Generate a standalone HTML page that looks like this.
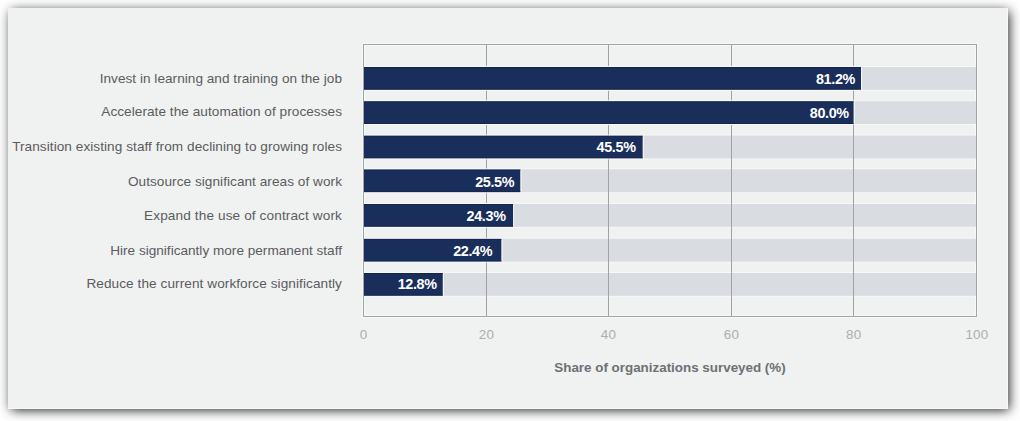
<!DOCTYPE html>
<html><head><meta charset="utf-8">
<style>
html,body{margin:0;padding:0;width:1020px;height:421px;overflow:hidden;background:#fff;}
body{position:relative;font-family:"Liberation Sans",sans-serif;}
.panel{position:absolute;left:8px;top:8px;width:1000px;height:401px;background:#f0f1f1;
  box-shadow:2px 2px 11px -1px rgba(0,0,0,0.9), inset -1px -1px 0 rgba(255,255,255,0.5);}
.val{position:absolute;height:23px;line-height:24px;color:#fff;font-weight:bold;font-size:14.4px;letter-spacing:-0.35px;text-align:right;white-space:nowrap;}
.lab{position:absolute;right:678px;height:23px;line-height:23px;color:#5b5c5e;font-size:13.6px;white-space:nowrap;letter-spacing:0.05px;}
.tick{position:absolute;top:326px;width:40px;margin-left:-20px;text-align:center;font-size:13.4px;color:#acaeb0;line-height:18px;letter-spacing:0.3px;}
.title{position:absolute;left:470px;width:400px;top:359px;text-align:center;font-weight:bold;font-size:13.4px;color:#6e7074;line-height:18px;}
</style></head><body>
<div class="panel"></div>
<svg width="1020" height="421" style="position:absolute;left:0;top:0"><rect x="364" y="45" width="612" height="1" fill="#f7f8f8"/><rect x="364" y="315" width="612" height="1" fill="#f7f8f8"/><rect x="364" y="45" width="1" height="271" fill="#f7f8f8"/><rect x="975" y="45" width="1" height="271" fill="#f7f8f8"/><rect x="977" y="44" width="1" height="274" fill="#f7f8f8"/><rect x="362" y="44" width="1" height="274" fill="#f7f8f8"/><rect x="362" y="43" width="616" height="1" fill="#f7f8f8"/><rect x="362" y="317" width="616" height="1" fill="#f7f8f8"/><rect x="364" y="66" width="612" height="1" fill="#f7f8f8"/><rect x="364" y="89.8" width="612" height="1" fill="#f7f8f8"/><rect x="364" y="67" width="612" height="22.8" fill="#d9dde1"/><rect x="364" y="100.2" width="612" height="1" fill="#f7f8f8"/><rect x="364" y="124.0" width="612" height="1" fill="#f7f8f8"/><rect x="364" y="101.2" width="612" height="22.8" fill="#d9dde1"/><rect x="364" y="134.6" width="612" height="1" fill="#f7f8f8"/><rect x="364" y="158.4" width="612" height="1" fill="#f7f8f8"/><rect x="364" y="135.6" width="612" height="22.8" fill="#d9dde1"/><rect x="364" y="168.4" width="612" height="1" fill="#f7f8f8"/><rect x="364" y="192.20000000000002" width="612" height="1" fill="#f7f8f8"/><rect x="364" y="169.4" width="612" height="22.8" fill="#d9dde1"/><rect x="364" y="203" width="612" height="1" fill="#f7f8f8"/><rect x="364" y="226.8" width="612" height="1" fill="#f7f8f8"/><rect x="364" y="204" width="612" height="22.8" fill="#d9dde1"/><rect x="364" y="237.8" width="612" height="1" fill="#f7f8f8"/><rect x="364" y="261.6" width="612" height="1" fill="#f7f8f8"/><rect x="364" y="238.8" width="612" height="22.8" fill="#d9dde1"/><rect x="364" y="272" width="612" height="1" fill="#f7f8f8"/><rect x="364" y="295.8" width="612" height="1" fill="#f7f8f8"/><rect x="364" y="273" width="612" height="22.8" fill="#d9dde1"/><rect x="363.5" y="44.5" width="613" height="272" fill="none" stroke="#a0a2a4" stroke-width="1"/><rect x="486" y="45" width="1" height="271" fill="#a0a2a4"/><rect x="608" y="45" width="1" height="271" fill="#a0a2a4"/><rect x="731" y="45" width="1" height="271" fill="#a0a2a4"/><rect x="853" y="45" width="1" height="271" fill="#a0a2a4"/><rect x="364" y="67" width="497.06" height="22.8" fill="#1a2e5b"/><rect x="861.06" y="66" width="1" height="24.8" fill="#f7f8f8"/><rect x="364" y="66" width="497.06" height="1" fill="#f7f8f8"/><rect x="364" y="89.8" width="497.06" height="1" fill="#f7f8f8"/><rect x="364" y="67" width="497.06" height="1" fill="#0f2048" opacity="0.6"/><rect x="364" y="88.8" width="497.06" height="1" fill="#0f2048" opacity="0.6"/><rect x="364" y="101.2" width="489.72" height="22.8" fill="#1a2e5b"/><rect x="853.72" y="100.2" width="1" height="24.8" fill="#f7f8f8"/><rect x="364" y="100.2" width="489.72" height="1" fill="#f7f8f8"/><rect x="364" y="124.0" width="489.72" height="1" fill="#f7f8f8"/><rect x="364" y="101.2" width="489.72" height="1" fill="#0f2048" opacity="0.6"/><rect x="364" y="123.0" width="489.72" height="1" fill="#0f2048" opacity="0.6"/><rect x="364" y="135.6" width="278.79" height="22.8" fill="#1a2e5b"/><rect x="642.79" y="134.6" width="1" height="24.8" fill="#f7f8f8"/><rect x="364" y="134.6" width="278.79" height="1" fill="#f7f8f8"/><rect x="364" y="158.4" width="278.79" height="1" fill="#f7f8f8"/><rect x="364" y="135.6" width="278.79" height="1" fill="#0f2048" opacity="0.6"/><rect x="364" y="157.4" width="278.79" height="1" fill="#0f2048" opacity="0.6"/><rect x="364" y="169.4" width="156.51" height="22.8" fill="#1a2e5b"/><rect x="520.51" y="168.4" width="1" height="24.8" fill="#f7f8f8"/><rect x="364" y="168.4" width="156.51" height="1" fill="#f7f8f8"/><rect x="364" y="192.20000000000002" width="156.51" height="1" fill="#f7f8f8"/><rect x="364" y="169.4" width="156.51" height="1" fill="#0f2048" opacity="0.6"/><rect x="364" y="191.20000000000002" width="156.51" height="1" fill="#0f2048" opacity="0.6"/><rect x="364" y="204" width="149.17" height="22.8" fill="#1a2e5b"/><rect x="513.17" y="203" width="1" height="24.8" fill="#f7f8f8"/><rect x="364" y="203" width="149.17" height="1" fill="#f7f8f8"/><rect x="364" y="226.8" width="149.17" height="1" fill="#f7f8f8"/><rect x="364" y="204" width="149.17" height="1" fill="#0f2048" opacity="0.6"/><rect x="364" y="225.8" width="149.17" height="1" fill="#0f2048" opacity="0.6"/><rect x="364" y="238.8" width="137.55" height="22.8" fill="#1a2e5b"/><rect x="501.55" y="237.8" width="1" height="24.8" fill="#f7f8f8"/><rect x="364" y="237.8" width="137.55" height="1" fill="#f7f8f8"/><rect x="364" y="261.6" width="137.55" height="1" fill="#f7f8f8"/><rect x="364" y="238.8" width="137.55" height="1" fill="#0f2048" opacity="0.6"/><rect x="364" y="260.6" width="137.55" height="1" fill="#0f2048" opacity="0.6"/><rect x="364" y="273" width="78.86" height="22.8" fill="#1a2e5b"/><rect x="442.86" y="272" width="1" height="24.8" fill="#f7f8f8"/><rect x="364" y="272" width="78.86" height="1" fill="#f7f8f8"/><rect x="364" y="295.8" width="78.86" height="1" fill="#f7f8f8"/><rect x="364" y="273" width="78.86" height="1" fill="#0f2048" opacity="0.6"/><rect x="364" y="294.8" width="78.86" height="1" fill="#0f2048" opacity="0.6"/></svg>
<div class="val" style="top:67.0px;left:755.0px;width:100px">81.2%</div>
<div class="val" style="top:101.1px;left:748.8px;width:100px">80.0%</div>
<div class="val" style="top:135.3px;left:535.6px;width:100px">45.5%</div>
<div class="val" style="top:170.3px;left:414.2px;width:100px">25.5%</div>
<div class="val" style="top:204.0px;left:405.6px;width:100px">24.3%</div>
<div class="val" style="top:238.7px;left:392.2px;width:100px">22.4%</div>
<div class="val" style="top:272.2px;left:336.7px;width:100px">12.8%</div>
<div class="lab" style="top:67px;letter-spacing:0.03px">Invest in learning and training on the job</div>
<div class="lab" style="top:100px;letter-spacing:0.05px">Accelerate the automation of processes</div>
<div class="lab" style="top:135px;letter-spacing:0.06px">Transition existing staff from declining to growing roles</div>
<div class="lab" style="top:170px;letter-spacing:0.05px">Outsource significant areas of work</div>
<div class="lab" style="top:204px;letter-spacing:0.12px">Expand the use of contract work</div>
<div class="lab" style="top:239px;letter-spacing:0.003px">Hire significantly more permanent staff</div>
<div class="lab" style="top:272px;letter-spacing:0.077px">Reduce the current workforce significantly</div>
<div class="tick" style="left:363.5px">0</div>
<div class="tick" style="left:486.5px">20</div>
<div class="tick" style="left:608.5px">40</div>
<div class="tick" style="left:731.5px">60</div>
<div class="tick" style="left:853.8px">80</div>
<div class="tick" style="left:977.0px">100</div>
<div class="title">Share of organizations surveyed (%)</div>
</body></html>
